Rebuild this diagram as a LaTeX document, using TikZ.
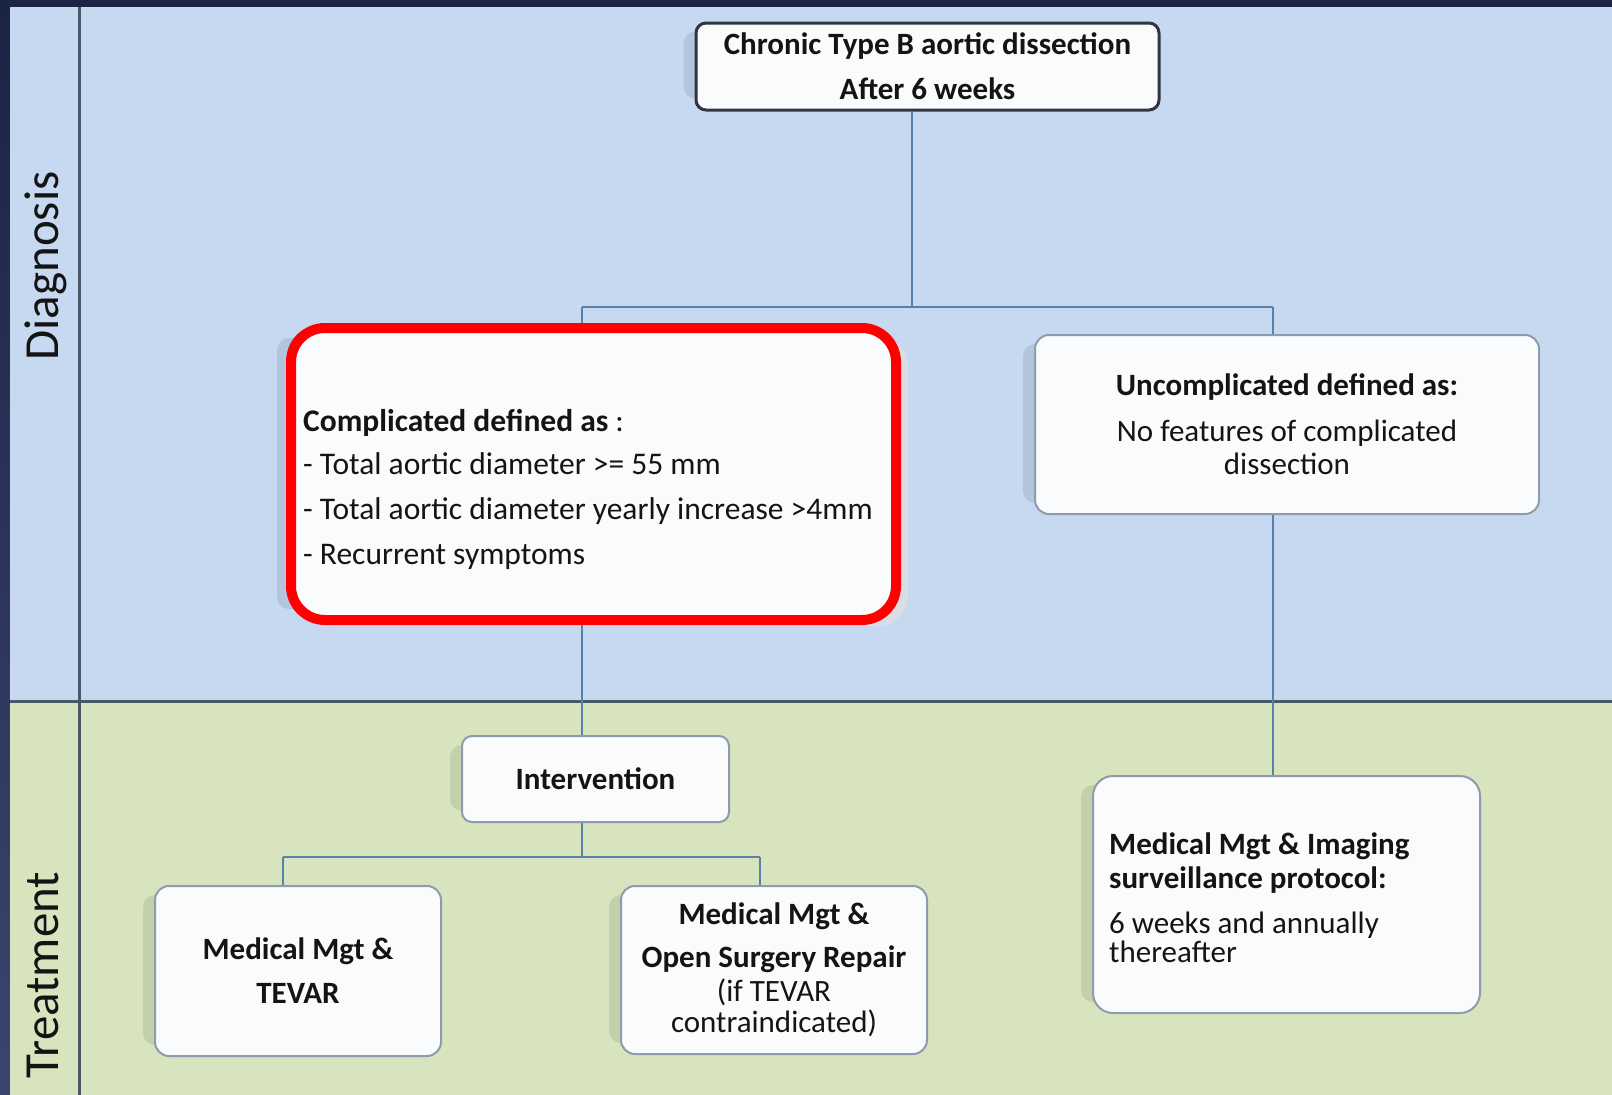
\documentclass[tikz,border=0pt]{standalone}
\usepackage{fontspec}
\setmainfont{Carlito}
\usetikzlibrary{calc}
\definecolor{navy}{HTML}{1C2444}
\definecolor{navyb}{HTML}{3A4670}
\definecolor{diagbg}{HTML}{C6D9F0}
\definecolor{treatbg}{HTML}{D7E4BD}
\definecolor{lanediv}{HTML}{4A5866}
\definecolor{connc}{HTML}{5A80AA}
\definecolor{boxfill}{HTML}{FAFBFD}
\definecolor{boxdraw}{HTML}{8C9CAD}
\definecolor{topdraw}{HTML}{30363F}
\definecolor{txt}{HTML}{141414}
\definecolor{shadb}{HTML}{B3C5DC}
\definecolor{shadg}{HTML}{C3D0AA}
\definecolor{bevel}{HTML}{D9DEE5}
\definecolor{redline}{HTML}{FF0000}
\pgfdeclarelayer{lanes}\pgfdeclarelayer{shad}
\pgfsetlayers{lanes,shad,main}
\tikzset{
  fbox/.style={draw=boxdraw, line width=2pt, fill=boxfill, rounded corners=14pt, inner sep=0pt,
    text=txt, align=center, font=\fontsize{31}{32}\selectfont},
  topbox/.style={fbox, draw=topdraw, line width=3pt, rounded corners=10pt},
  conn/.style={draw=connc, line width=2pt},
  txtn/.style={text=txt, inner sep=0pt, align=left, font=\fontsize{31}{32}\selectfont},
  lanelab/.style={text=txt, rotate=90, inner sep=0pt, font=\fontsize{49}{55}\selectfont},
  shadowb/.style={fill=shadb, rounded corners=12pt},
  shadowg/.style={fill=shadg, rounded corners=12pt}
}
\begin{document}
\begin{tikzpicture}[x=1pt,y=-1pt]
\useasboundingbox (0,0) rectangle (1612,1095);
\begin{pgfonlayer}{lanes}
  \fill[navy] (0,0) rectangle (1612,1095);
  \shade[top color=navy, bottom color=navyb] (0,7) rectangle (10,1095);
  \fill[diagbg] (10,7) rectangle (1612,701);
  \fill[treatbg] (10,701) rectangle (1612,1095);
  \draw[lanediv, line width=3pt] (79,7) -- (79,1095);
  \draw[lanediv, line width=3pt] (10,701) -- (1612,701);
\end{pgfonlayer}

\node[lanelab] (ldiag) at (46,266) {Diagnosis};
\node[lanelab] (ltreat) at (43,975) {Treatment};

\node[topbox, minimum width=463pt, minimum height=87pt] (top) at (927.5,66.5)
  {\bfseries Chronic Type B aortic dissection\\[13pt]\bfseries After 6 weeks};

\node[fbox, minimum width=610pt, minimum height=293pt, rounded corners=30pt] (cbox) at (593,473.5) {};
\node[txtn, anchor=west, font=\fontsize{31.5}{32}\selectfont] (ctext) at (303,489)
  {\textbf{Complicated defined as} :\\[11pt]
   - Total aortic diameter >= 55 mm\\[13pt]
   - Total aortic diameter yearly increase >4mm\\[13pt]
   - Recurrent symptoms};
\draw[redline, line width=10pt, rounded corners=34pt] (291,328) rectangle (896,620);

\node[fbox, minimum width=504pt, minimum height=179pt] (ubox) at (1287,424.5)
  {\textbf{Uncomplicated defined as:}\\[14pt] No features of complicated\\[1pt] dissection};

\node[fbox, minimum width=267pt, minimum height=86pt, rounded corners=10pt] (inter) at (595.5,779)
  {\bfseries Intervention};

\node[fbox, minimum width=286pt, minimum height=170pt] (tevar) at (298,971)
  {\bfseries Medical Mgt \&\\[12pt]\bfseries TEVAR};

\node[fbox, minimum width=306pt, minimum height=168pt] (open) at (774,970)
  {\textbf{Medical Mgt \&}\\[11pt]\textbf{Open Surgery Repair}\\[2pt](if TEVAR\\[-1pt]contraindicated)};

\node[fbox, minimum width=387pt, minimum height=237pt, rounded corners=20pt] (imag) at (1286.5,894.5) {};
\node[txtn, anchor=west] (itext) at (1109,898)
  {\textbf{Medical Mgt \& Imaging}\\[2pt]
   \textbf{surveillance protocol:}\\[13pt]
   6 weeks and annually\\[-3pt]
   thereafter};

\coordinate (j1) at (912,307);
\coordinate (jl) at (582,307);
\coordinate (jr) at (1273,307);
\coordinate (j2) at (582,857);
\coordinate (kl) at (283,857);
\coordinate (kr) at (760,857);

\begin{pgfonlayer}{shad}
  \fill[shadowb] ([xshift=-11pt,yshift=-10pt]top.north west) rectangle ([xshift=-11pt,yshift=13pt]top.south east);
  \fill[shadowb] ([xshift=-10pt,yshift=-12pt]cbox.north west) rectangle ([xshift=-10pt,yshift=12pt]cbox.south east);
  \fill[bevel, rounded corners=30pt] ([xshift=20pt,yshift=-10pt]cbox.north west) rectangle ([xshift=9pt,yshift=-5pt]cbox.south east);
  \fill[shadowb] ([xshift=-11pt,yshift=-10pt]ubox.north west) rectangle ([xshift=-11pt,yshift=12pt]ubox.south east);
  \fill[shadowg] ([xshift=-11pt,yshift=-10pt]inter.north west) rectangle ([xshift=-11pt,yshift=12pt]inter.south east);
  \fill[shadowg] ([xshift=-11pt,yshift=-10pt]tevar.north west) rectangle ([xshift=-11pt,yshift=12pt]tevar.south east);
  \fill[shadowg] ([xshift=-11pt,yshift=-10pt]open.north west) rectangle ([xshift=-11pt,yshift=12pt]open.south east);
  \fill[shadowg] ([xshift=-11pt,yshift=-10pt]imag.north west) rectangle ([xshift=-11pt,yshift=12pt]imag.south east);
  \draw[conn] (j1 |- top.south) -- (j1);
  \draw[conn] (jl) -- (jr);
  \draw[conn] (jl) -- (jl |- cbox.north);
  \draw[conn] (jr) -- (jr |- ubox.north);
  \draw[conn] (jl |- cbox.south) -- (jl |- inter.north);
  \draw[conn] (jr |- ubox.south) -- (jr |- imag.north);
  \draw[conn] (jl |- inter.south) -- (j2);
  \draw[conn] (kl) -- (kr);
  \draw[conn] (kl) -- (kl |- tevar.north);
  \draw[conn] (kr) -- (kr |- open.north);
\end{pgfonlayer}
\end{tikzpicture}
\end{document}
